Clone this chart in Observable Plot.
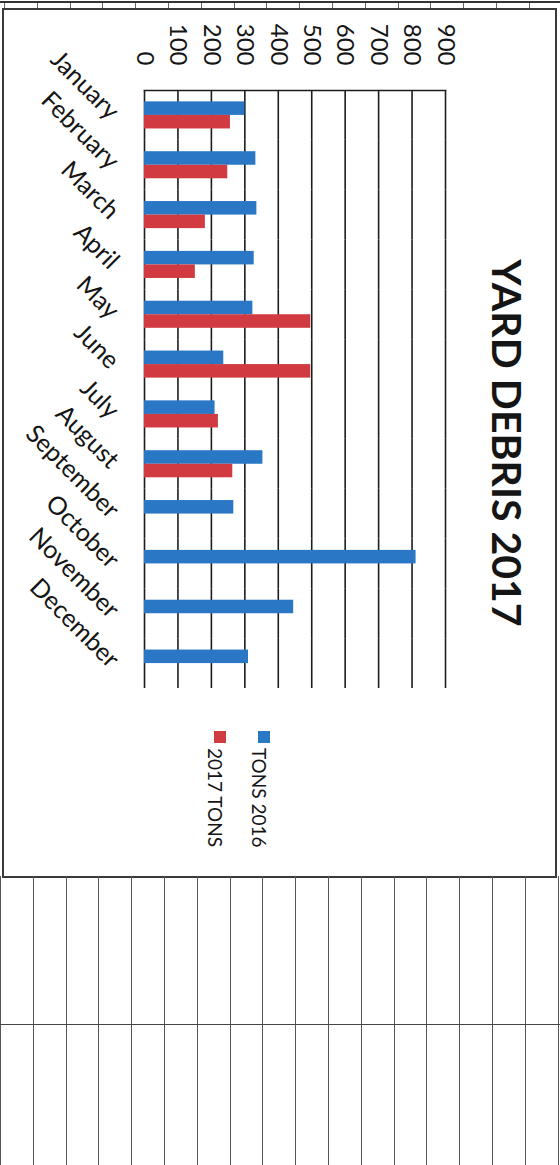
<!DOCTYPE html>
<html>
<head>
<meta charset="utf-8">
<script src="https://cdn.jsdelivr.net/npm/d3@7"></script>
<script src="https://cdn.jsdelivr.net/npm/@observablehq/plot@0.6"></script>
<style>
  html, body { margin: 0; padding: 0; background: #fff; }
  #page { position: relative; width: 560px; height: 1165px; overflow: hidden; font-family: Lato, "Open Sans", sans-serif; color: #111; }
  #topstrip { position: absolute; left: 0; top: 1px; width: 560px; height: 7px; border-top: 2px solid #333;
    background-image: repeating-linear-gradient(to right, transparent 0 4px, #666 4px 5px, transparent 5px 32.8px); }
  #frame { position: absolute; left: 2px; top: 8px; width: 551px; height: 866px; border: 2px solid #3a3a3a; }
  #chart { position: absolute; left: 0; top: 0; }
  #title { position: absolute; left: 507px; top: 443px; transform: translate(-50%, -50%);
    writing-mode: vertical-rl; font-family: Lato, sans-serif; font-weight: 700; font-size: 41px; color: #151515; white-space: nowrap; }
  #legend { position: absolute; left: 205px; top: 731px; writing-mode: vertical-rl; font-family: Lato, sans-serif; font-size: 19px; color: #151515; }
  #legend .item { line-height: 20px; white-space: nowrap; }
  #legend .item + .item { margin-right: 23px; }
  #legend .sw { display: inline-block; width: 12px; height: 12px; margin-bottom: 5px; vertical-align: middle; }
  #table { position: absolute; left: 0; top: 876px; width: 560px; height: 289px;
    background-image: repeating-linear-gradient(to right, #555 0 1px, transparent 1px 32.8px); }
  #table .hline { position: absolute; left: 0; right: 0; top: 148px; border-top: 1px solid #444; }
</style>
</head>
<body>
<div id="page">
  <div id="topstrip"></div>
  <div id="frame"></div>
  <div id="chart"></div>
  <div id="title"></div>
  <div id="legend"></div>
  <div id="table"><div class="hline"></div></div>
</div>
<script>
const titleText = "YARD DEBRIS 2017";
const months = ["January", "February", "March", "April", "May", "June", "July", "August", "September", "October", "November", "December"];
const seriesNames = ["TONS 2016", "2017 TONS"];
const seriesColors = ["#2a77c5", "#d03a40"];
const tons2016 = [300, 333, 336, 328, 324, 237, 211, 354, 267, 812, 446, 311];
const tons2017 = [257, 249, 182, 152, 497, 497, 221, 264, null, null, null, null];
const valueTicks = [0, 100, 200, 300, 400, 500, 600, 700, 800, 900];

const rows = months.flatMap((m, i) => [
  {month: m, series: seriesNames[0], value: tons2016[i]},
  {month: m, series: seriesNames[1], value: tons2017[i]}
]).filter(d => d.value != null);

const chart = Plot.plot({
  width: 560,
  height: 878,
  marginLeft: 144,
  marginRight: 115,
  marginTop: 90,
  marginBottom: 190,
  style: {fontFamily: "Lato, sans-serif", fontSize: "24px", background: "transparent", color: "#111"},
  x: {domain: [0, 900], axis: null},
  y: {domain: seriesNames, paddingInner: 0, paddingOuter: 0.84, round: false, axis: null},
  fy: {domain: months, padding: 0, round: false, axis: null},
  color: {domain: seriesNames, range: seriesColors},
  marks: [
    Plot.gridX(valueTicks, {stroke: "#1c1c1c", strokeOpacity: 1, strokeWidth: 1.6}),
    Plot.frame({anchor: "top", facet: "super", stroke: "#1c1c1c", strokeWidth: 1.6}),
    Plot.barX(rows, {fy: "month", y: "series", x: "value", fill: "series"}),
    Plot.axisX({anchor: "top", ticks: valueTicks, tickSize: 0, tickPadding: 25, tickRotate: 90,
      textAnchor: "end", lineAnchor: "middle", fontSize: 24, label: null, fill: "#151515"}),
    Plot.axisFy({anchor: "left", tickSize: 0, tickPadding: 30, tickRotate: 45,
      textAnchor: "end", lineAnchor: "middle", fontSize: 25, label: null, fill: "#151515"})
  ]
});
document.getElementById("chart").appendChild(chart);

document.getElementById("title").textContent = titleText;
const legend = document.getElementById("legend");
seriesNames.forEach((name, i) => {
  const item = document.createElement("div");
  item.className = "item";
  const sw = document.createElement("span");
  sw.className = "sw";
  sw.style.background = seriesColors[i];
  item.appendChild(sw);
  item.appendChild(document.createTextNode(name));
  legend.appendChild(item);
});
</script>
</body>
</html>
